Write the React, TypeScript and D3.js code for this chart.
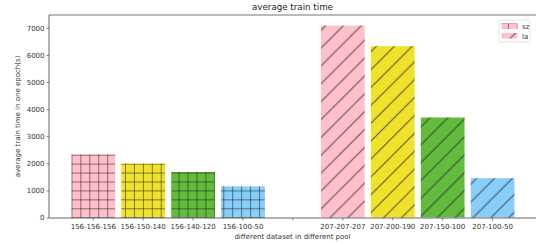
import * as d3 from 'd3';
import { FC } from 'react';

// tick labels along x (slot 4 is the empty gap between the two pools)
const categories = [
  '156-156-156', '156-150-140', '156-140-120', '156-100-50', '',
  '207-207-207', '207-200-190', '207-150-100', '207-100-50',
];
const szLabels = ['156-156-156', '156-150-140', '156-140-120', '156-100-50'];
const szValues = [2370, 2030, 1720, 1190];
const laLabels = ['207-207-207', '207-200-190', '207-150-100', '207-100-50'];
const laValues = [7120, 6360, 3730, 1490];
const barColors = ['#ffc0cb', '#f0e12a', '#62bb3c', '#87cefa'];
const yTicks = [0, 1000, 2000, 3000, 4000, 5000, 6000, 7000];

const width = 536;
const height = 244;
const margin = { top: 15, right: 0, bottom: 26, left: 49 };
const font = 'DejaVu Sans, sans-serif';

const App: FC = () => {
  const innerW = width - margin.left - margin.right;
  const innerH = height - margin.top - margin.bottom;

  const xScale = d3.scaleLinear().domain([-0.887, 8.87]).range([0, innerW]);
  const yScale = d3.scaleLinear().domain([0, 7490]).range([innerH, 0]);
  const barW = xScale(0.9) - xScale(0);

  const slotOf = (label: string) => categories.indexOf(label);

  const series = [
    { labels: szLabels, values: szValues, hatch: 'hatch-plus' },
    { labels: laLabels, values: laValues, hatch: 'hatch-slash' },
  ];

  // hatch lines are anchored to the figure origin (bottom left)
  const grid = 8.93;
  const diag = 17.87;

  return (
    <svg
      width={width}
      height={height}
      style={{ position: 'absolute', left: 0, top: 0, background: '#fff' }}
    >
      <defs>
        <pattern
          id="hatch-plus"
          patternUnits="userSpaceOnUse"
          width={grid}
          height={grid}
          x={0}
          y={height % grid}
        >
          <line x1={0} y1={0} x2={grid} y2={0} stroke="#1a1a1a" strokeWidth={1.3} opacity={0.8} />
          <line x1={0} y1={0} x2={0} y2={grid} stroke="#1a1a1a" strokeWidth={1.3} opacity={0.8} />
        </pattern>
        <pattern
          id="hatch-slash"
          patternUnits="userSpaceOnUse"
          width={diag}
          height={diag}
          x={height % diag}
          y={0}
        >
          <line x1={-diag} y1={diag} x2={diag} y2={-diag} stroke="#222" strokeWidth={1} opacity={0.75} />
          <line x1={0} y1={diag} x2={diag} y2={0} stroke="#222" strokeWidth={1} opacity={0.75} />
          <line x1={0} y1={2 * diag} x2={2 * diag} y2={0} stroke="#222" strokeWidth={1} opacity={0.75} />
        </pattern>
      </defs>

      <text
        x={margin.left + innerW / 2}
        y={10}
        textAnchor="middle"
        fontFamily={font}
        fontSize={8.7}
        fill="#222"
      >
        average train time
      </text>

      {/* bars are drawn in page coordinates so the hatch anchors to the figure */}
      {series.map((s) =>
        s.values.map((v, i) => {
          const cx = margin.left + xScale(slotOf(s.labels[i]));
          const y = margin.top + yScale(v);
          const h = margin.top + innerH - y;
          return (
            <g key={s.labels[i]}>
              <rect
                x={cx - barW / 2}
                y={y}
                width={barW}
                height={h}
                fill={barColors[i]}
                stroke="#fff"
                strokeWidth={1.2}
              />
              <rect
                x={cx - barW / 2 + 0.6}
                y={y + 0.6}
                width={barW - 1.2}
                height={h - 0.6}
                fill={`url(#${s.hatch})`}
              />
            </g>
          );
        })
      )}

      <g transform={`translate(${margin.left},${margin.top})`}>
        <line x1={0} y1={0} x2={innerW} y2={0} stroke="#666" strokeWidth={0.9} />
        <line x1={0} y1={0} x2={0} y2={innerH} stroke="#555" strokeWidth={0.9} />
        <line x1={0} y1={innerH} x2={innerW} y2={innerH} stroke="#555" strokeWidth={0.9} />

        {yTicks.map((t) => (
          <g key={t} transform={`translate(0,${yScale(t)})`}>
            <line x1={-2.5} x2={0} stroke="#555" strokeWidth={0.7} />
            <text
              x={-4.5}
              dy="0.34em"
              textAnchor="end"
              fontFamily={font}
              fontSize={7}
              fill="#333"
            >
              {t}
            </text>
          </g>
        ))}

        {categories.map((c, i) => (
          <g key={i} transform={`translate(${xScale(i)},${innerH})`}>
            <line y1={0} y2={2.5} stroke="#555" strokeWidth={0.7} />
            <text
              y={11}
              textAnchor="middle"
              fontFamily={font}
              fontSize={7}
              fill="#333"
            >
              {c}
            </text>
          </g>
        ))}
      </g>

      <text
        x={margin.left + innerW / 2}
        y={239}
        textAnchor="middle"
        fontFamily={font}
        fontSize={7}
        fill="#333"
      >
        different dataset in different pool
      </text>
      <text
        transform={`translate(20,${margin.top + innerH / 2}) rotate(-90)`}
        textAnchor="middle"
        fontFamily={font}
        fontSize={7}
        fill="#333"
      >
        average train time in one epoch(s)
      </text>

      <g transform="translate(499,20)">
        <rect x={0} y={0} width={31} height={22} rx={1.5} fill="#fff" stroke="#ddd" strokeWidth={0.8} />
        <rect x={2.5} y={3.5} width={16} height={5.5} fill="#ffc0cb" />
        <rect x={2.5} y={3.5} width={16} height={5.5} fill="url(#hatch-plus)" />
        <text x={23} y={9} fontFamily={font} fontSize={7} fill="#333">sz</text>
        <rect x={2.5} y={13} width={16} height={5.5} fill="#ffc0cb" />
        <rect x={2.5} y={13} width={16} height={5.5} fill="url(#hatch-slash)" />
        <text x={23} y={18.5} fontFamily={font} fontSize={7} fill="#333">la</text>
      </g>
    </svg>
  );
};

export default App;
